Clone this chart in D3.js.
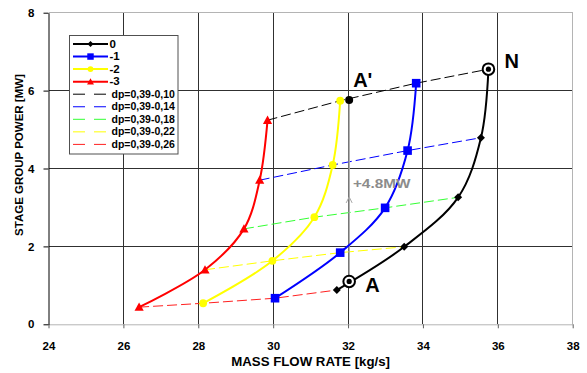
<!DOCTYPE html>
<html>
<head>
<meta charset="utf-8">
<script src="https://cdn.jsdelivr.net/npm/d3@7"></script>
<style>
  body { margin: 0; background: #fff; }
  svg { display: block; font-family: "Liberation Sans", Arial, sans-serif; }
</style>
</head>
<body>
<div id="wrapper"></div>
<script>
// series: flow [kg/s] and power [MW], points ordered dp 0.26 -> 0.10
const series0Flow = [31.70, 33.50, 34.94, 35.55, 35.75]
const series0Power = [0.88, 1.99, 3.26, 4.79, 6.55]
const series1Flow = [30.05, 31.79, 32.99, 33.59, 33.82]
const series1Power = [0.67, 1.84, 2.99, 4.46, 6.19]
const series2Flow = [28.13, 29.98, 31.10, 31.59, 31.79]
const series2Power = [0.54, 1.63, 2.75, 4.09, 5.74]
const series3Flow = [26.42, 28.18, 29.22, 29.64, 29.85]
const series3Power = [0.44, 1.40, 2.45, 3.70, 5.24]

const seriesNames = ["0", "-1", "-2", "-3"]
const dpNames = ["dp=0,39-0,10", "dp=0,39-0,14", "dp=0,39-0,18", "dp=0,39-0,22", "dp=0,39-0,26"]
const dpIndex = [4, 3, 2, 1, 0]   // which point of each series belongs to a dp line

const xTicks = [24, 26, 28, 30, 32, 34, 36, 38]
const yTicks = [0, 2, 4, 6, 8]

// annotations
const pointA = [32.03, 1.10]
const pointA2 = [32.03, 5.76]
const arrowAt = 3.27
const gainLabel = "+4.8MW"
const gainPos = [32.13, 3.49]

const seriesColor = ["#000000", "#0000ff", "#ffff00", "#ff0000"]
const dpColor = ["#000000", "#0000ff", "#33ff33", "#ffff00", "#ff2020"]

const width = 587, height = 373
const margin = {top: 12.7, right: 14.3, bottom: 48.7, left: 48.5}

const svg = d3.select("#wrapper").append("svg")
  .attr("width", width).attr("height", height)

const x = d3.scaleLinear().domain([24, 38]).range([margin.left, width - margin.right])
const y = d3.scaleLinear().domain([0, 8]).range([height - margin.bottom, margin.top])

const flows = [series0Flow, series1Flow, series2Flow, series3Flow]
const powers = [series0Power, series1Power, series2Power, series3Power]
const pts = flows.map((f, s) => f.map((v, i) => [v, powers[s][i]]))

// stretch text horizontally to match the wide glyphs of the original
function widen(sel, k) {
  sel.each(function() {
    const w = this.getComputedTextLength()
    d3.select(this).attr("textLength", w * k).attr("lengthAdjust", "spacingAndGlyphs")
  })
}

// grid
const grid = svg.append("g").attr("shape-rendering", "crispEdges")
grid.selectAll(".vx").data(xTicks.slice(1, -1)).enter().append("line")
  .attr("x1", d => x(d)).attr("x2", d => x(d))
  .attr("y1", y(8)).attr("y2", y(0))
  .attr("stroke", "#303030")
grid.selectAll(".hy").data(yTicks.slice(1, -1)).enter().append("line")
  .attr("x1", x(24)).attr("x2", x(38))
  .attr("y1", d => y(d)).attr("y2", d => y(d))
  .attr("stroke", "#303030")
// frame top / right
grid.append("line").attr("x1", x(24)).attr("x2", x(38)).attr("y1", y(8)).attr("y2", y(8)).attr("stroke", "#b4b4b4")
grid.append("line").attr("x1", x(38)).attr("x2", x(38)).attr("y1", y(8)).attr("y2", y(0)).attr("stroke", "#b4b4b4")

// axes
const xAxis = svg.append("g")
  .attr("transform", `translate(0,${y(0)})`)
  .call(d3.axisBottom(x).tickValues(xTicks).tickSize(4).tickPadding(13.5).tickSizeOuter(0))
xAxis.select(".domain").attr("stroke", "#b4b4b4")
xAxis.selectAll(".tick line").attr("stroke", "#606060")
xAxis.selectAll("text").attr("font-size", 11.5).attr("font-weight", "bold").attr("fill", "#000")

const yAxis = svg.append("g")
  .attr("transform", `translate(${x(24)},0)`)
  .call(d3.axisLeft(y).tickValues(yTicks).tickSize(5).tickPadding(9).tickSizeOuter(0))
yAxis.select(".domain").attr("stroke", "#000")
yAxis.selectAll(".tick line").attr("stroke", "#000")
yAxis.selectAll("text").attr("font-size", 11.5).attr("font-weight", "bold").attr("fill", "#000")

svg.append("text")
  .attr("x", x(31)).attr("y", 365.5)
  .attr("text-anchor", "middle")
  .attr("font-size", 12.5).attr("font-weight", "bold")
  .text("MASS FLOW RATE [kg/s]")
  .call(widen, 1.06)

svg.append("text")
  .attr("transform", "translate(23,155) rotate(-90)")
  .attr("text-anchor", "middle")
  .attr("font-size", 11.5).attr("font-weight", "bold")
  .text("STAGE GROUP POWER [MW]")
  .call(widen, 1.0)

// constant dp lines (straight, dashed)
const straight = d3.line().x(d => x(d[0])).y(d => y(d[1]))
dpIndex.forEach((k, j) => {
  const line = [3, 2, 1, 0].map(s => pts[s][k])
  svg.append("path")
    .attr("d", straight(line))
    .attr("fill", "none")
    .attr("stroke", dpColor[j])
    .attr("stroke-width", 1)
    .attr("stroke-dasharray", "10,4")
})

// vertical gain line A -> A'
svg.append("line")
  .attr("x1", x(pointA[0])).attr("x2", x(pointA2[0]))
  .attr("y1", y(pointA[1])).attr("y2", y(pointA2[1]))
  .attr("stroke", "#a8a8a8").attr("stroke-width", 1.5)
svg.append("path")
  .attr("d", `M${x(pointA[0]) - 3},${y(arrowAt) + 6} L${x(pointA[0])},${y(arrowAt)} L${x(pointA[0]) + 3},${y(arrowAt) + 6}`)
  .attr("fill", "none").attr("stroke", "#a8a8a8").attr("stroke-width", 1)

// smoothed series lines
const smooth = d3.line().x(d => x(d[0])).y(d => y(d[1])).curve(d3.curveCatmullRom.alpha(0.5))
pts.forEach((p, s) => {
  svg.append("path")
    .attr("d", smooth(p))
    .attr("fill", "none")
    .attr("stroke", seriesColor[s])
    .attr("stroke-width", 2)
})

// markers
function marker(g, s, cx, cy, big) {
  const k = big ? 1 : 0.75
  if (s === 0) {
    const r = 4 * k
    g.append("path").attr("d", `M${cx},${cy - r} L${cx + r},${cy} L${cx},${cy + r} L${cx - r},${cy} Z`).attr("fill", "#000")
  } else if (s === 1) {
    const h = 4.3 * k
    g.append("rect").attr("x", cx - h).attr("y", cy - h).attr("width", 2 * h).attr("height", 2 * h).attr("fill", "#0000ff")
  } else if (s === 2) {
    g.append("circle").attr("cx", cx).attr("cy", cy).attr("r", 3.9 * k).attr("fill", "#ffff00")
  } else {
    const w = 4.6 * k
    g.append("path").attr("d", `M${cx},${cy - w} L${cx + w},${cy + w * 0.8} L${cx - w},${cy + w * 0.8} Z`).attr("fill", "#ff0000")
  }
}
const marks = svg.append("g")
pts.forEach((p, s) => {
  p.forEach((d, i) => {
    if (s === 0 && i === p.length - 1) return
    marker(marks, s, x(d[0]), y(d[1]), true)
  })
})

// target circles at A and N
function target(cx, cy) {
  svg.append("circle").attr("cx", cx).attr("cy", cy).attr("r", 5.8)
    .attr("fill", "#fff").attr("stroke", "#000").attr("stroke-width", 2)
  svg.append("circle").attr("cx", cx).attr("cy", cy).attr("r", 2.6).attr("fill", "#000")
}
target(x(pointA[0]), y(pointA[1]))
target(x(series0Flow[4]), y(series0Power[4]))
svg.append("circle").attr("cx", x(pointA2[0])).attr("cy", y(pointA2[1])).attr("r", 4).attr("fill", "#000")

// annotation labels
svg.append("text").attr("x", x(pointA2[0]) + 4).attr("y", y(pointA2[1]) - 13)
  .attr("font-size", 20).attr("font-weight", "bold").text("A'")
svg.append("text").attr("x", x(pointA[0]) + 16).attr("y", y(pointA[1]) + 11)
  .attr("font-size", 20).attr("font-weight", "bold").text("A")
svg.append("text").attr("x", x(series0Flow[4]) + 16).attr("y", y(series0Power[4]) - 1.5)
  .attr("font-size", 20).attr("font-weight", "bold").text("N")
svg.append("text").attr("x", x(gainPos[0])).attr("y", y(gainPos[1]))
  .attr("font-size", 13).attr("font-weight", "bold").attr("fill", "#8c8c8c")
  .text(gainLabel)
  .call(widen, 1.18)

// legend
const legend = svg.append("g")
legend.append("rect").attr("x", 69.5).attr("y", 35.5).attr("width", 108.5).attr("height", 118.5)
  .attr("fill", "#fff").attr("stroke", "#505050").attr("stroke-width", 1)
const rowY = i => 44 + i * 12.55
seriesNames.forEach((n, s) => {
  const yy = rowY(s)
  legend.append("line").attr("x1", 73).attr("x2", 108).attr("y1", yy).attr("y2", yy)
    .attr("stroke", seriesColor[s]).attr("stroke-width", 2)
  marker(legend, s, 90.5, yy, false)
  legend.append("text").attr("x", 109.5).attr("y", yy + 3.6)
    .attr("font-size", 10).attr("font-weight", "bold").text(n)
    .call(widen, 1.15)
})
dpNames.forEach((n, j) => {
  const yy = rowY(j + 4)
  legend.append("line").attr("x1", 73).attr("x2", 108).attr("y1", yy).attr("y2", yy)
    .attr("stroke", dpColor[j]).attr("stroke-width", 1)
    .attr("stroke-dasharray", "12,9")
  legend.append("text").attr("x", 111.5).attr("y", yy + 3.6)
    .attr("font-size", 10).attr("font-weight", "bold").text(n)
    .call(widen, 1.05)
})
</script>
</body>
</html>
